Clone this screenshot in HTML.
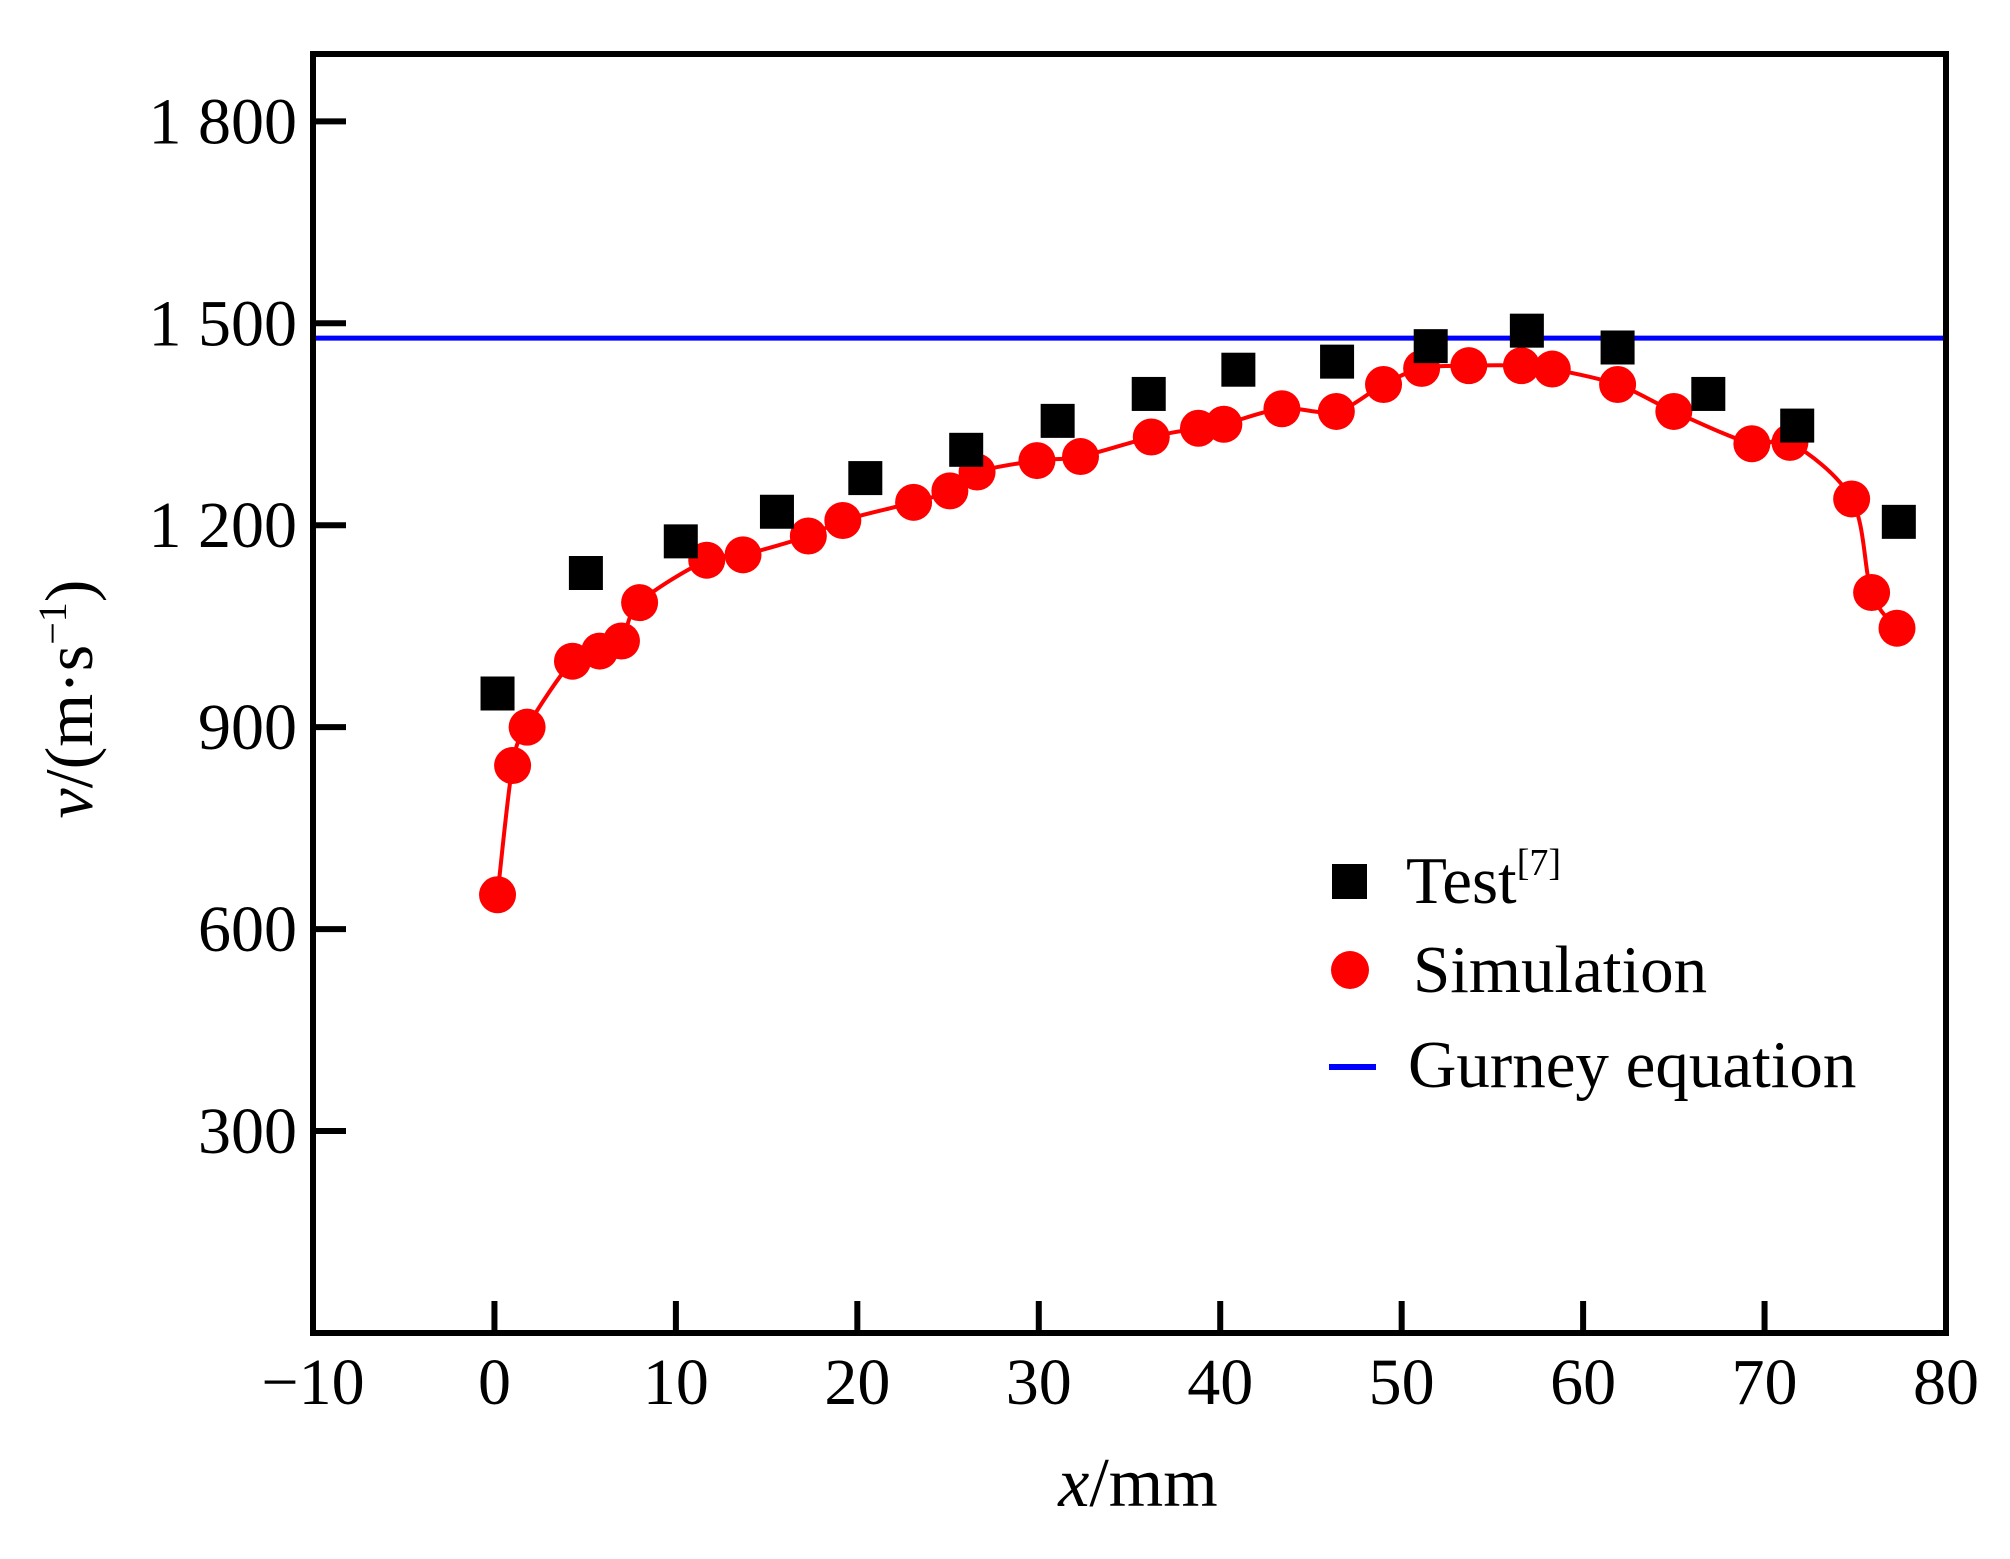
<!DOCTYPE html>
<html><head><meta charset="utf-8"><style>html,body{margin:0;padding:0;background:#fff}svg{display:block}text{font-family:"Liberation Serif",serif;fill:#000}</style></head>
<body>
<svg id="chart" width="2010" height="1559" viewBox="0 0 2010 1559" xmlns="http://www.w3.org/2000/svg">
<rect x="0" y="0" width="2010" height="1559" fill="#fff"/>
<g id="plot"></g>
<rect x="313" y="54" width="1633" height="1279" fill="none" stroke="#000" stroke-width="6"/>
<text x="1138" y="1506" font-size="70" text-anchor="middle"><tspan font-style="italic">x</tspan>/mm</text>
<text transform="translate(92,699) rotate(-90)" font-size="68" text-anchor="middle"><tspan font-style="italic">v</tspan>/(m·s<tspan font-size="40" dy="-26">−1</tspan><tspan dy="26">)</tspan></text>
<g>
<rect x="1332" y="864" width="35" height="35" fill="#000"/>
<text x="1406" y="903" font-size="67">Test<tspan font-size="38" dy="-28">[7]</tspan></text>
<circle cx="1350" cy="970" r="19" fill="#ff0000"/>
<text x="1413" y="992" font-size="67">Simulation</text>
<line x1="1329" y1="1067" x2="1376" y2="1067" stroke="#0000ff" stroke-width="6"/>
<text x="1408" y="1087" font-size="67">Gurney equation</text>
</g>
</svg>
<script>
const xTicks = [-10, 0, 10, 20, 30, 40, 50, 60, 70, 80];
const xTickLabels = ["−10", "0", "10", "20", "30", "40", "50", "60", "70", "80"];
const yTicks = [300, 600, 900, 1200, 1500, 1800];
const yTickLabels = ["300", "600", "900", "1 200", "1 500", "1 800"];
const testX = [0.17, 5.04, 10.27, 15.57, 20.44, 26.0, 31.04, 36.06, 41.0, 46.44, 51.6, 56.9, 61.9, 66.9, 71.8, 77.4];
const testV = [950, 1129, 1176, 1220, 1270, 1312, 1355, 1395, 1431, 1443, 1466, 1489, 1464, 1395, 1348, 1205];
const simX = [0.17, 1.0, 1.8, 4.3, 5.8, 7.0, 8.0, 11.7, 13.7, 17.3, 19.2, 23.1, 25.1, 26.6, 29.9, 32.3, 36.2, 38.8, 40.2, 43.4, 46.4, 49.0, 51.1, 53.7, 56.6, 58.3, 61.9, 65.0, 69.3, 71.4, 74.8, 75.9, 77.3];
const simV = [651, 843, 900, 998, 1013, 1028, 1085, 1148, 1156, 1184, 1207, 1234, 1251, 1279, 1296, 1302, 1331, 1344, 1350, 1373, 1369, 1409, 1433, 1437, 1437, 1432, 1409, 1369, 1321, 1323, 1239, 1100, 1047];
const gurneyV = [1478];

const L=313,R=1946,T=54,B=1333;
function xs(v){return L+(v+10)/90*(R-L);}
function ys(v){return B-v/1900*(B-T);}
const NS="http://www.w3.org/2000/svg";
const g=document.getElementById('plot');
function mk(tag,attrs){const e=document.createElementNS(NS,tag);for(const k in attrs)e.setAttribute(k,attrs[k]);g.appendChild(e);return e;}

xTicks.forEach((t,i)=>{
  const l=mk('line',{x1:xs(t),x2:xs(t),y1:B,y2:B-32,stroke:'#000','stroke-width':6});
  
  
  const tx=mk('text',{x:xs(t),y:1404,'font-size':66,'text-anchor':'middle'});
  tx.textContent=xTickLabels[i];
  
  
});
yTicks.forEach((t,i)=>{
  const l=mk('line',{x1:L,x2:L+33,y1:ys(t),y2:ys(t),stroke:'#000','stroke-width':6});
  
  
  const tx=mk('text',{x:297,y:ys(t)+22,'font-size':66,'text-anchor':'end'});
  tx.textContent=yTickLabels[i];
  
  
});
const gl=mk('line',{x1:L,x2:R,y1:ys(gurneyV[0]),y2:ys(gurneyV[0]),stroke:'#0000ff','stroke-width':5});


const P=simX.map((x,i)=>[xs(x),ys(simV[i])]);
let d='M'+P[0][0]+','+P[0][1];
for(let i=0;i<P.length-1;i++){
  const p0=P[Math.max(0,i-1)],p1=P[i],p2=P[i+1],p3=P[Math.min(P.length-1,i+2)];
  const c1=[p1[0]+(p2[0]-p0[0])/6,p1[1]+(p2[1]-p0[1])/6];
  const c2=[p2[0]-(p3[0]-p1[0])/6,p2[1]-(p3[1]-p1[1])/6];
  d+=' C'+c1+' '+c2+' '+p2;
}
const cp=mk('path',{d:d,fill:'none',stroke:'#ff0000','stroke-width':4});


simX.forEach((x,i)=>{
  const c=mk('circle',{cx:xs(x),cy:ys(simV[i]),r:18.5,fill:'#ff0000'});
  
  
});
testX.forEach((x,i)=>{
  const s=mk('rect',{x:xs(x)-17,y:ys(testV[i])-17,width:34,height:34,fill:'#000'});
  
  
});
</script>
</body></html>
